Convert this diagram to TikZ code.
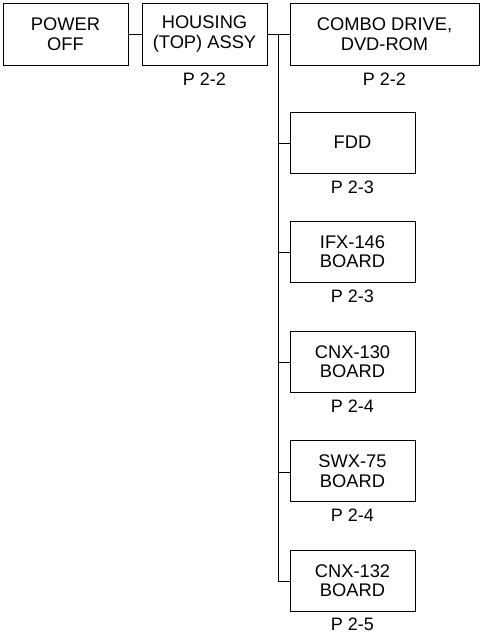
\documentclass[tikz,border=0pt]{standalone}
\usepackage{fontspec}
\setmainfont{Liberation Sans}
\begin{document}
\begin{tikzpicture}[x=1pt,y=-1pt,
  box/.style={draw,line width=1pt,inner sep=0pt,align=center,
    font=\fontsize{18.3}{19.5}\selectfont},
  smallbox/.style={box,minimum width=125pt,minimum height=61pt},
  lbl/.style={inner sep=0pt,font=\fontsize{18}{20}\selectfont},
  conn/.style={line width=1pt}]
\useasboundingbox (0,0) rectangle (480,633);
\node[box,minimum width=125pt,minimum height=62pt] (pw) at (65.5,34) {POWER\\OFF};
\node[box,minimum width=125pt,minimum height=62pt] (hs) at (204.5,34) {HOUSING\\(TOP) ASSY};
\node[box,minimum width=189pt,minimum height=62pt] (cb) at (384.5,34) {COMBO DRIVE,\\DVD-ROM};
\node[smallbox] (fdd) at (352.5,142.5) {FDD};
\node[smallbox] (ifx) at (352.5,251.5) {IFX-146\\BOARD};
\node[smallbox] (c130) at (352.5,361.5) {CNX-130\\BOARD};
\node[smallbox] (swx) at (352.5,471) {SWX-75\\BOARD};
\node[smallbox] (c132) at (352.5,580.5) {CNX-132\\BOARD};
\node[lbl] (lhs) at ([yshift=-13.5pt]hs.south) {P 2-2};
\node[lbl] (lcb) at ([yshift=-13.5pt]cb.south) {P 2-2};
\node[lbl] (lfdd) at ([yshift=-13.5pt]fdd.south) {P 2-3};
\node[lbl] (lifx) at ([yshift=-13.5pt]ifx.south) {P 2-3};
\node[lbl] (l130) at ([yshift=-13.5pt]c130.south) {P 2-4};
\node[lbl] (lswx) at ([yshift=-13.5pt]swx.south) {P 2-4};
\node[lbl] (l132) at ([yshift=-13pt]c132.south) {P 2-5};
\coordinate (trunk) at (278.5,34);
\draw[conn] (pw.east) -- (hs.west);
\draw[conn] (hs.east) -- (cb.west);
\draw[conn] (trunk) |- ([yshift=-1pt]c132.west);
\draw[conn] (trunk |- fdd.west) ++(0,1) -- ([yshift=-1pt]fdd.west);
\draw[conn] (trunk |- ifx.west) ++(0,1) -- ([yshift=-1pt]ifx.west);
\draw[conn] (trunk |- c130.west) ++(0,1) -- ([yshift=-1pt]c130.west);
\draw[conn] (trunk |- swx.west) ++(0,1) -- ([yshift=-1pt]swx.west);
\end{tikzpicture}
\end{document}
